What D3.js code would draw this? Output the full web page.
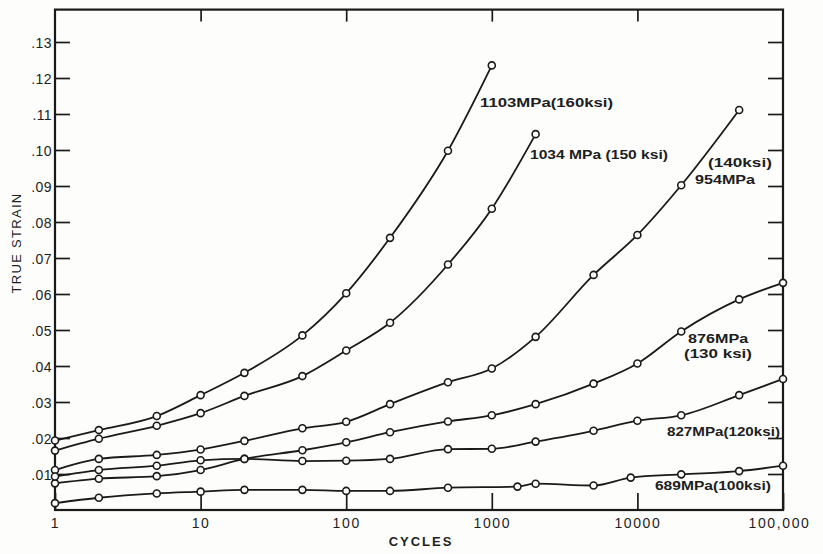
<!DOCTYPE html>
<html>
<head>
<meta charset="utf-8">
<script src="https://cdn.jsdelivr.net/npm/d3@7"></script>
<style>
  html, body { margin: 0; padding: 0; background: #fdfdfc; }
  svg { display: block; }
  text { font-family: "Liberation Sans", Arial, sans-serif; fill: #1e1e1e; }
</style>
</head>
<body>
<svg id="chart" width="823" height="554"></svg>
<script>
// Creep-fatigue: true strain vs. number of cycles at several stress levels
const cycleTicks = [1, 10, 100, 1000, 10000, 100000];
const cycleTickLabels = ["1", "10", "100", "1000", "10000", "100,000"];
const strainTicks = [0.01, 0.02, 0.03, 0.04, 0.05, 0.06, 0.07, 0.08, 0.09, 0.10, 0.11, 0.12, 0.13];

// stress level: 1103 MPa (160 ksi)
const cycles1103 = [1, 2, 5, 10, 20, 50, 100, 200, 500, 1000];
const strain1103 = [0.0193, 0.0222, 0.0261, 0.0319, 0.0381, 0.0485, 0.0602, 0.0756, 0.0998, 0.1235];

// stress level: 1034 MPa (150 ksi)
const cycles1034 = [1, 2, 5, 10, 20, 50, 100, 200, 500, 1000, 2000];
const strain1034 = [0.0165, 0.0198, 0.0234, 0.0269, 0.0317, 0.0372, 0.0443, 0.0520, 0.0682, 0.0837, 0.1044];

// stress level: 954 MPa (140 ksi)
const cycles954 = [1, 2, 5, 10, 20, 50, 100, 200, 500, 1000, 2000, 5000, 10000, 20000, 50000];
const strain954 = [0.0111, 0.0142, 0.0153, 0.0168, 0.0192, 0.0227, 0.0245, 0.0294, 0.0355, 0.0393, 0.0481, 0.0653, 0.0764, 0.0902, 0.1111];

// stress level: 876 MPa (130 ksi)
const cycles876 = [1, 2, 5, 10, 20, 50, 100, 200, 500, 1000, 2000, 5000, 10000, 20000, 50000, 100000];
const strain876 = [0.0074, 0.0087, 0.0094, 0.0111, 0.0142, 0.0166, 0.0188, 0.0216, 0.0246, 0.0263, 0.0294, 0.0351, 0.0407, 0.0496, 0.0585, 0.0631];

// stress level: 827 MPa (120 ksi)
const cycles827 = [1, 2, 5, 10, 20, 50, 100, 200, 500, 1000, 2000, 5000, 10000, 20000, 50000, 100000];
const strain827 = [0.0093, 0.0111, 0.0123, 0.0138, 0.0142, 0.0136, 0.0137, 0.0142, 0.0169, 0.0170, 0.0190, 0.0220, 0.0248, 0.0263, 0.0319, 0.0364];

// stress level: 689 MPa (100 ksi)
const cycles689 = [1, 2, 5, 10, 20, 50, 100, 200, 500, 1500, 2000, 5000, 9000, 20000, 50000, 100000];
const strain689 = [0.0019, 0.0034, 0.0046, 0.0051, 0.0056, 0.0056, 0.0053, 0.0053, 0.0062, 0.0065, 0.0073, 0.0068, 0.0090, 0.0099, 0.0108, 0.0123];

const seriesNames = ["1103", "1034", "954", "876", "827", "689"];
const seriesCycles = [cycles1103, cycles1034, cycles954, cycles876, cycles827, cycles689];
const seriesStrain = [strain1103, strain1034, strain954, strain876, strain827, strain689];

// curve labels, anchored in (cycles, strain) space
const labelTexts = ["1103MPa(160ksi)", "1034 MPa (150 ksi)", "(140ksi)", "954MPa", "876MPa", "(130 ksi)", "827MPa(120ksi)", "689MPa(100ksi)"];
const labelCycles = [830, 1830, 30500, 24900, 22300, 20900, 15960, 13200];
const labelStrain = [0.1119, 0.0975, 0.0953, 0.0906, 0.0464, 0.0422, 0.0206, 0.0056];
const labelWidths = [133, 138, 64, 60, 60, 68, 113, 116];

const svg = d3.select("#chart");
const mLeft = 55, mRight = 783, mBottom = 510, mTop = 9.6;

const x = d3.scaleLog().domain([1, 100000]).range([mLeft, mRight]);
const y = d3.scaleLinear().domain([0, 0.139]).range([mBottom, mTop]);

const ink = "#1a1a1a";

// axes (ticks point inward on all four sides)
const fmtStrain = d => d3.format(".2f")(d).replace(/^0/, "");

const yAxis = svg.append("g")
  .attr("transform", `translate(${mLeft},0)`)
  .call(d3.axisLeft(y).tickValues(strainTicks).tickSize(-15).tickPadding(3).tickFormat(fmtStrain));
yAxis.selectAll("text").style("font-size", "14px").style("letter-spacing", "0.4px").attr("dy", "0.36em");

svg.append("g")
  .attr("transform", `translate(${mRight},0)`)
  .call(d3.axisRight(y).tickValues(strainTicks).tickSize(-15).tickFormat(""));

const xAxis = svg.append("g")
  .attr("transform", `translate(0,${mBottom})`)
  .call(d3.axisBottom(x).tickValues(cycleTicks).tickSize(-17).tickPadding(8)
    .tickFormat((d, i) => cycleTickLabels[i]));
xAxis.selectAll("text").style("font-size", "14px").style("letter-spacing", "1.6px");
xAxis.selectAll(".tick").filter(d => d === 100000).select("text").attr("dx", "-4px");

svg.append("g")
  .attr("transform", `translate(0,${mTop})`)
  .call(d3.axisTop(x).tickValues([10, 100, 1000, 10000]).tickSize(-12).tickFormat(""));

svg.selectAll(".domain").remove();
svg.selectAll(".tick line").attr("stroke", ink).attr("stroke-width", 1.7);

// frame
svg.append("rect")
  .attr("x", mLeft).attr("y", mTop)
  .attr("width", mRight - mLeft).attr("height", mBottom - mTop)
  .attr("fill", "none").attr("stroke", ink).attr("stroke-width", 2.2);

// axis titles
svg.append("text")
  .attr("x", 421).attr("y", 546)
  .attr("text-anchor", "middle")
  .style("font-size", "13px").style("letter-spacing", "2px").style("font-weight", "bold")
  .text("CYCLES");

svg.append("text")
  .attr("transform", "translate(21,243) rotate(-90)")
  .attr("text-anchor", "middle")
  .style("font-size", "13px").style("letter-spacing", "1.3px")
  .text("TRUE STRAIN");

// curves and markers
const line = d3.line()
  .x(d => x(d[0]))
  .y(d => y(d[1]))
  .curve(d3.curveMonotoneX);

seriesNames.forEach((name, i) => {
  const pts = seriesCycles[i].map((c, j) => [c, seriesStrain[i][j]]);
  const g = svg.append("g").attr("class", "series s" + name);
  g.append("path")
    .attr("d", line(pts))
    .attr("fill", "none").attr("stroke", ink).attr("stroke-width", 1.8);
  g.selectAll("circle").data(pts).join("circle")
    .attr("cx", d => x(d[0])).attr("cy", d => y(d[1]))
    .attr("r", 3.5)
    .attr("fill", "#fdfdfc").attr("stroke", ink).attr("stroke-width", 1.6);
});

// curve labels
labelTexts.forEach((t, i) => {
  svg.append("text")
    .attr("x", x(labelCycles[i])).attr("y", y(labelStrain[i]))
    .attr("textLength", labelWidths[i]).attr("lengthAdjust", "spacingAndGlyphs")
    .style("font-size", "13px").style("font-weight", "bold")
    .text(t);
});
</script>
</body>
</html>
